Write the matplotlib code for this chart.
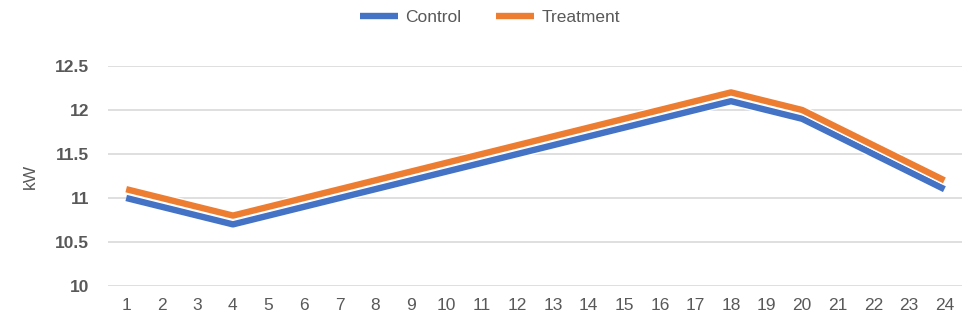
import matplotlib
matplotlib.use("Agg")
import matplotlib.pyplot as plt
import matplotlib.patheffects as pe

# hourly load, kW
hours = list(range(1, 25))
control = [11.0, 10.9, 10.8, 10.7, 10.8, 10.9, 11.0, 11.1, 11.2, 11.3, 11.4, 11.5,
           11.6, 11.7, 11.8, 11.9, 12.0, 12.1, 12.0, 11.9, 11.7, 11.5, 11.3, 11.1]
treatment = [11.1, 11.0, 10.9, 10.8, 10.9, 11.0, 11.1, 11.2, 11.3, 11.4, 11.5, 11.6,
             11.7, 11.8, 11.9, 12.0, 12.1, 12.2, 12.1, 12.0, 11.8, 11.6, 11.4, 11.2]
yticks = [10, 10.5, 11, 11.5, 12, 12.5]

plt.rcParams["font.family"] = ["Liberation Sans Narrow", "Liberation Sans", "DejaVu Sans"]
GREY = "#595959"

fig = plt.figure(figsize=(9.68, 3.23), dpi=100)
ax = fig.add_axes([0.112, 0.1146, 0.882, 0.6811])

outline = [pe.Stroke(linewidth=6.5, foreground="white"), pe.Normal()]
for ys, color, label in ((control, "#4472C4", "Control"), (treatment, "#ED7D31", "Treatment")):
    ax.plot(hours, ys, color=color, lw=4.6, label=label, solid_joinstyle="round",
            solid_capstyle="butt", path_effects=outline)

ax.set_xlim(0.5, 24.5)
ax.set_ylim(10, 12.5)
ax.set_xticks(hours)
ax.set_xticklabels([str(h) for h in hours])
ax.set_yticks(yticks)
ax.set_yticklabels([f"{t:g}" for t in yticks], fontweight="bold")
ax.tick_params(axis="both", length=0, colors=GREY, labelsize=12.5)
ax.tick_params(axis="x", pad=9)
ax.tick_params(axis="y", pad=14)
ax.grid(axis="y", color="#D9D9D9", lw=1.2)
ax.set_axisbelow(True)
for s in ax.spines.values():
    s.set_visible(False)
ax.set_ylabel("kW", color=GREY, fontsize=12.5, labelpad=12)

ax.legend(loc="center", bbox_to_anchor=(0.447, 1.22), ncol=2, frameon=False,
          fontsize=12.5, labelcolor=GREY, handlelength=2.2, columnspacing=2.0,
          handletextpad=0.4)

fig.savefig("out.png", dpi=100)
